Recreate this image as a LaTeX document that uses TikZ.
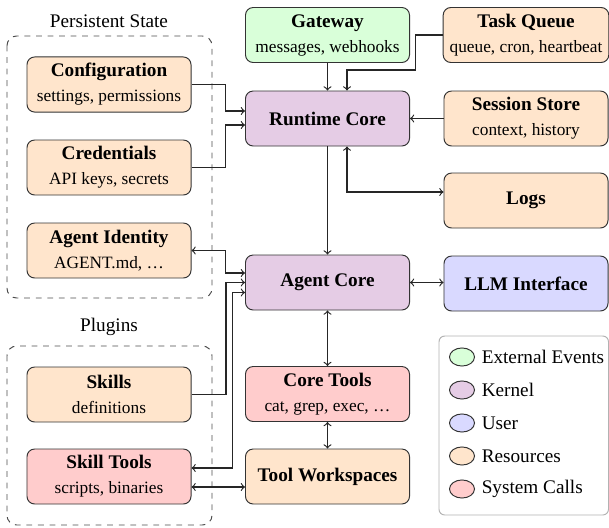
\documentclass[tikz,border=0pt]{standalone}
\usepackage{fontspec}
\setmainfont{Liberation Serif}
\usepackage{tikz}
\usetikzlibrary{calc,shapes.geometric}
\usepackage{xcolor}

\newcommand{\boxsub}[1]{\\[1pt]{\small\normalfont #1}}

\tikzset{
  box/.style={draw=black!80, line width=0.5pt, rounded corners=4pt,
              minimum width=85.3pt, minimum height=28.6pt,
              align=center, font=\bfseries},
  external/.style={box, fill=green!15},
  kernel/.style={box, fill=violet!20},
  user/.style={box, fill=blue!15},
  resource/.style={box, fill=orange!20},
  syscall/.style={box, fill=red!20},
  group/.style={draw=black!70, dashed, line width=0.5pt, rounded corners=5pt},
  link/.style={draw=black!85, line width=0.6pt},
  legdot/.style={draw=black!80, line width=0.5pt, ellipse, minimum width=13pt,
                 minimum height=9.4pt, inner sep=0pt}
}

\begin{document}
\begin{tikzpicture}[x=0.52pt, y=-0.52pt]
        \useasboundingbox (0, 0) rectangle (609, 527);

        % groups
        \node (stateLabel) at (109, 21) {Persistent State};
        \draw[group] (7, 36) rectangle (212, 298);
        \node (pluginLabel) at (109, 327) {Plugins};
        \draw[group] (7, 346) rectangle (212, 525);

        % left column
        \node[resource] (config) at (109, 84.5) {Configuration\boxsub{settings, permissions}};
        \node[resource] (cred) at (109, 167.5) {Credentials\boxsub{API keys, secrets}};
        \node[resource] (ident) at (109, 250.5) {Agent Identity\boxsub{AGENT.md, \ldots}};
        \node[resource] (skills) at (109, 394.5) {Skills\boxsub{definitions}};
        \node[syscall] (skilltools) at (109, 476.5) {Skill Tools\boxsub{scripts, binaries}};

        % middle column
        \node[external] (gateway) at (327.5, 35) {Gateway\boxsub{messages, webhooks}};
        \node[kernel] (runtime) at (327.5, 118.5) {Runtime Core};
        \node[kernel] (agent) at (327.5, 282.5) {Agent Core};
        \node[syscall] (coretools) at (327.5, 394) {Core Tools\boxsub{cat, grep, exec, \ldots}};
        \node[resource] (workspaces) at (327.5, 476.5) {Tool Workspaces};

        % right column
        \node[resource] (taskq) at (526, 35) {Task Queue\boxsub{queue, cron, heartbeat}};
        \node[resource] (session) at (526, 118.5) {Session Store\boxsub{context, history}};
        \node[resource] (logs) at (526, 200.5) {Logs};
        \node[user] (llm) at (526, 283.5) {LLM Interface};

        % connectors
        \draw[link, ->] (gateway.south) -- (runtime.north);
        \draw[link, ->] (taskq.west) -- ++(-27, 0) -- ++(0, 35)
                        -| ($(runtime.north)+(19.5, 0)$);
        \draw[link, ->] (session.west) -- (runtime.east);
        \draw[link, <->] ($(runtime.south)+(19.5, 0)$) |- ($(logs.west)+(0, -8.5)$);
        \draw[link, ->] (runtime.south) -- (agent.north);

        \draw[link, ->] (config.east) -- ++(34, 0) |- ($(runtime.west)+(0, -7.5)$);
        \draw[link, ->] (cred.east) -- ++(34, 0) |- ($(runtime.west)+(0, 6.5)$);
        \draw[link, <->] (ident.east) -- ++(34, 0) |- ($(agent.west)+(0, -9.5)$);
        \draw[link, ->] (skills.east) -- ++(34.5, 0) |- (agent.west);
        \draw[link, <->] ($(skilltools.east)+(0, -8.5)$) -- ++(41, 0) |- ($(agent.west)+(0, 10)$);
        \draw[link, <->] ($(skilltools.east)+(0, 10.5)$) -- ($(workspaces.west)+(0, 10.5)$);

        \draw[link, <->] (agent.east) -- (agent.east -| llm.west);
        \draw[link, <->] (agent.south) -- (coretools.north);
        \draw[link, <->] (coretools.south) -- (workspaces.north);

        % legend
        \draw[draw=black!30, line width=0.5pt, rounded corners=3pt, fill=white]
            (439, 336) rectangle (608.5, 515);
        \node[legdot, fill=green!15] (legExt) at (462, 357) {};
        \node[anchor=west] at (legExt.east) {External Events};
        \node[legdot, fill=violet!20] (legKer) at (462, 390) {};
        \node[anchor=west] at (legKer.east) {Kernel};
        \node[legdot, fill=blue!15] (legUsr) at (462, 423) {};
        \node[anchor=west] at (legUsr.east) {User};
        \node[legdot, fill=orange!20] (legRes) at (462, 456) {};
        \node[anchor=west] at (legRes.east) {Resources};
        \node[legdot, fill=red!20] (legSys) at (462, 489) {};
        \node[anchor=west] at (legSys.east) {System Calls};
    \end{tikzpicture}
\end{document}
